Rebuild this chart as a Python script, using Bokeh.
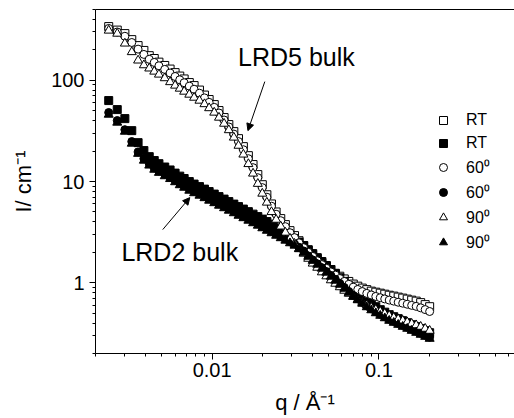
from bokeh.plotting import figure
from bokeh.models import (FixedTicker, CustomJSTickFormatter, LogAxis, Legend, LegendItem,
                          Arrow, NormalHead, Label, Range1d)
from bokeh.embed import file_html
from bokeh.resources import INLINE

# ---------------- data ----------------
q = [0.0024, 0.0027, 0.0030, 0.0033, 0.0036, 0.0039, 0.0042, 0.0045, 0.0048, 0.0052,
     0.0056, 0.0060, 0.0064, 0.0068, 0.0073, 0.0078, 0.0084, 0.0090, 0.0096, 0.0103,
     0.0110, 0.0118, 0.0126, 0.0135, 0.0144, 0.0154, 0.0165, 0.0176, 0.0188, 0.0200,
     0.0213, 0.0227, 0.0242, 0.0258, 0.0275, 0.0293, 0.0312, 0.0332, 0.0354, 0.0377,
     0.0401, 0.0427, 0.0455, 0.0484, 0.0515, 0.0548, 0.0583, 0.0620, 0.0660, 0.0702,
     0.0747, 0.0795, 0.0846, 0.0900, 0.0958, 0.1019, 0.1084, 0.1153, 0.1227, 0.1305,
     0.1389, 0.1478, 0.1572, 0.1673, 0.1780, 0.1894, 0.2015]

lrd5_rt = [339, 313, 289, 252, 220, 197, 175, 164, 151, 140,
           129, 119, 110, 103, 94.9, 88.6, 80.0, 71.4, 64.5, 57.5,
           50.2, 42.8, 36.5, 31.1, 26.5, 22.1, 18.0, 14.7, 11.7, 9.3,
           7.4, 6.0, 5.0, 4.3, 3.75, 3.27, 2.92, 2.60, 2.32, 2.09,
           1.90, 1.73, 1.58, 1.46, 1.35, 1.24, 1.16, 1.09, 1.03, 0.97,
           0.925, 0.885, 0.855, 0.826, 0.807, 0.789, 0.771, 0.753, 0.738, 0.721,
           0.705, 0.689, 0.673, 0.658, 0.636, 0.608, 0.58]

lrd2_rt = [63.0, 51.3, 41.8, 31.8, 24.2, 20.2, 17.6, 16.1, 15.0, 13.9,
           13.0, 12.1, 11.3, 10.7, 9.98, 9.43, 8.90, 8.41, 7.95, 7.51,
           7.09, 6.70, 6.33, 5.98, 5.65, 5.34, 5.04, 4.76, 4.50, 4.25,
           4.02, 3.79, 3.58, 3.35, 3.13, 2.92, 2.73, 2.52, 2.33, 2.12,
           1.94, 1.77, 1.62, 1.48, 1.35, 1.23, 1.12, 1.03, 0.936, 0.855,
           0.780, 0.721, 0.665, 0.622, 0.580, 0.542, 0.512, 0.484, 0.462, 0.442,
           0.422, 0.403, 0.385, 0.368, 0.352, 0.336, 0.321]

lrd5_60 = [325, 300, 272, 236, 203, 180, 161, 150, 139, 128,
           118, 109, 101, 94.5, 87.5, 81.5, 74.5, 67.0, 60.5, 54.0,
           47.5, 40.5, 34.6, 29.4, 24.8, 20.6, 16.8, 13.7, 10.9, 8.7,
           7.0, 5.7, 4.75, 4.10, 3.58, 3.12, 2.79, 2.48, 2.22, 2.00,
           1.82, 1.65, 1.51, 1.39, 1.28, 1.19, 1.10, 1.03, 0.965, 0.905,
           0.858, 0.818, 0.785, 0.757, 0.732, 0.711, 0.692, 0.674, 0.658, 0.642,
           0.628, 0.613, 0.598, 0.584, 0.565, 0.543, 0.52]

lrd2_60 = [48.0, 40.0, 32.5, 24.8, 19.6, 16.8, 15.0, 13.6, 12.7, 11.8,
           11.0, 10.3, 9.6, 9.06, 8.47, 8.0, 7.56, 7.14, 6.75, 6.38,
           6.02, 5.69, 5.38, 5.08, 4.80, 4.54, 4.29, 4.05, 3.83, 3.61,
           3.41, 3.22, 3.04, 2.87, 2.71, 2.56, 2.42, 2.24, 2.06, 1.84,
           1.68, 1.54, 1.41, 1.29, 1.18, 1.08, 0.985, 0.898, 0.820, 0.750,
           0.692, 0.640, 0.592, 0.552, 0.516, 0.487, 0.460, 0.436, 0.416, 0.397,
           0.380, 0.363, 0.347, 0.332, 0.317, 0.303, 0.290]

lrd5_90 = [310, 289, 231, 190, 157, 141, 131, 122, 114, 105,
           96, 88.7, 82.8, 77.3, 72.2, 67.4, 63.0, 58.2, 53.1, 48.0,
           42.8, 37.3, 32.2, 27.2, 22.6, 18.5, 14.9, 12.0, 9.5, 7.6,
           6.2, 5.0, 4.2, 3.6, 3.13, 2.73, 2.43, 2.17, 1.94, 1.73,
           1.55, 1.41, 1.27, 1.16, 1.06, 0.98, 0.905, 0.836, 0.780, 0.729,
           0.681, 0.636, 0.601, 0.567, 0.542, 0.518, 0.495, 0.473, 0.452, 0.437,
           0.422, 0.408, 0.394, 0.381, 0.368, 0.352, 0.336]

lrd2_90 = [45.8, 38.2, 31.1, 23.7, 18.8, 16.1, 14.4, 13.1, 12.2, 11.3,
           10.6, 9.86, 9.21, 8.70, 8.13, 7.68, 7.26, 6.86, 6.48, 6.12,
           5.78, 5.46, 5.16, 4.87, 4.60, 4.35, 4.11, 3.88, 3.67, 3.46,
           3.27, 3.09, 2.92, 2.76, 2.61, 2.46, 2.33, 2.15, 1.98, 1.81,
           1.65, 1.51, 1.38, 1.26, 1.15, 1.05, 0.958, 0.874, 0.798, 0.729,
           0.673, 0.622, 0.574, 0.536, 0.501, 0.473, 0.447, 0.422, 0.403, 0.385,
           0.368, 0.352, 0.336, 0.321, 0.307, 0.293, 0.280]

legend_labels = ["RT", "RT", "60\u2070", "60\u2070", "90\u2070", "90\u2070"]

x_major = [0.01, 0.1]
x_minor = [0.002, 0.003, 0.004, 0.005, 0.006, 0.007, 0.008, 0.009,
           0.02, 0.03, 0.04, 0.05, 0.06, 0.07, 0.08, 0.09,
           0.2, 0.3, 0.4, 0.5, 0.6]
y_major = [1, 10, 100]
y_minor = [0.2, 0.3, 0.4, 0.5, 0.6, 0.7, 0.8, 0.9,
           2, 3, 4, 5, 6, 7, 8, 9,
           20, 30, 40, 50, 60, 70, 80, 90,
           200, 300, 400, 500]

FONT = "Liberation Sans"

# ---------------- figure ----------------
p = figure(width=514, height=418, x_axis_type="log", y_axis_type="log",
           x_range=Range1d(0.002, 0.65), y_range=Range1d(0.2, 500),
           output_backend="svg", toolbar_location=None,
           min_border_left=95, min_border_right=0, min_border_top=9, min_border_bottom=65)
p.background_fill_color = "white"
p.border_fill_color = "white"
p.outline_line_color = None
p.xgrid.visible = False
p.ygrid.visible = False

fmt = "return tick.toString();"
p.xaxis.ticker = FixedTicker(ticks=x_major, minor_ticks=x_minor)
p.yaxis.ticker = FixedTicker(ticks=y_major, minor_ticks=y_minor)
p.xaxis.formatter = CustomJSTickFormatter(code=fmt)
p.yaxis.formatter = CustomJSTickFormatter(code=fmt)

for ax in (p.xaxis[0], p.yaxis[0]):
    ax.axis_line_color = "black"
    ax.axis_line_width = 1
    ax.major_tick_in = 0
    ax.major_tick_out = 6
    ax.minor_tick_in = 0
    ax.minor_tick_out = 3
    ax.major_tick_line_color = "black"
    ax.minor_tick_line_color = "black"
    ax.major_label_text_font = FONT
    ax.major_label_text_font_size = "20px"
    ax.major_label_text_color = "black"
    ax.axis_label_text_font = FONT
    ax.axis_label_text_font_size = "22px"
    ax.axis_label_text_font_style = "normal"
    ax.axis_label_text_color = "black"

p.xaxis.axis_label = "q / \u00c5\u207b\u00b9"
p.yaxis.axis_label = "I/ cm\u207b\u00b9"
p.xaxis.major_label_standoff = 3
p.xaxis.axis_label_standoff = 10
p.yaxis.major_label_standoff = 5
p.yaxis.axis_label_standoff = 12

top = LogAxis(ticker=FixedTicker(ticks=[]), major_tick_out=0, major_tick_in=0,
              minor_tick_out=0, minor_tick_in=0, major_label_text_font_size="0px",
              major_label_standoff=0, axis_line_color="black", axis_line_width=1)
p.add_layout(top, "above")

# ---------------- data series ----------------
r1 = p.scatter(q, lrd5_rt, marker="square", size=8, line_color="black", fill_color="white", line_width=1)
r2 = p.scatter(q, lrd2_rt, marker="square", size=8, line_color="black", fill_color="black")
r3 = p.scatter(q, lrd5_60, marker="circle", size=8, line_color="black", fill_color="white", line_width=1)
r4 = p.scatter(q, lrd2_60, marker="circle", size=8, line_color="black", fill_color="black")
r5 = p.scatter(q, lrd5_90, marker="triangle", size=9, line_color="black", fill_color="white", line_width=1)
r6 = p.scatter(q, lrd2_90, marker="triangle", size=9, line_color="black", fill_color="black")

items = [LegendItem(label=lab, renderers=[r]) for lab, r in zip(legend_labels, [r1, r2, r3, r4, r5, r6])]
legend = Legend(items=items, location=(338, 100), orientation="vertical",
                glyph_width=20, glyph_height=20, label_height=20, spacing=3,
                padding=0, margin=0, label_standoff=13,
                border_line_color=None, background_fill_alpha=0,
                label_text_font=FONT, label_text_font_size="16px", label_text_color="black")
p.add_layout(legend)

# ---------------- annotations ----------------
p.add_layout(Arrow(end=NormalHead(size=7, fill_color="black", line_color="black"),
                   x_start=0.0207, y_start=97.0, x_end=0.0164, y_end=31.8,
                   line_color="black", line_width=1))
p.add_layout(Arrow(end=NormalHead(size=7, fill_color="black", line_color="black"),
                   x_start=0.00506, y_start=3.35, x_end=0.00735, y_end=6.93,
                   line_color="black", line_width=1))

p.add_layout(Label(x=0.01432, y=168, text="LRD5 bulk", text_font=FONT, text_font_size="25px",
                   text_baseline="alphabetic", text_align="left", text_color="black"))
p.add_layout(Label(x=0.00286, y=2.0, text="LRD2 bulk", text_font=FONT, text_font_size="25px",
                   text_baseline="alphabetic", text_align="left", text_color="black"))

open("out.html", "w").write(file_html(p, INLINE))
